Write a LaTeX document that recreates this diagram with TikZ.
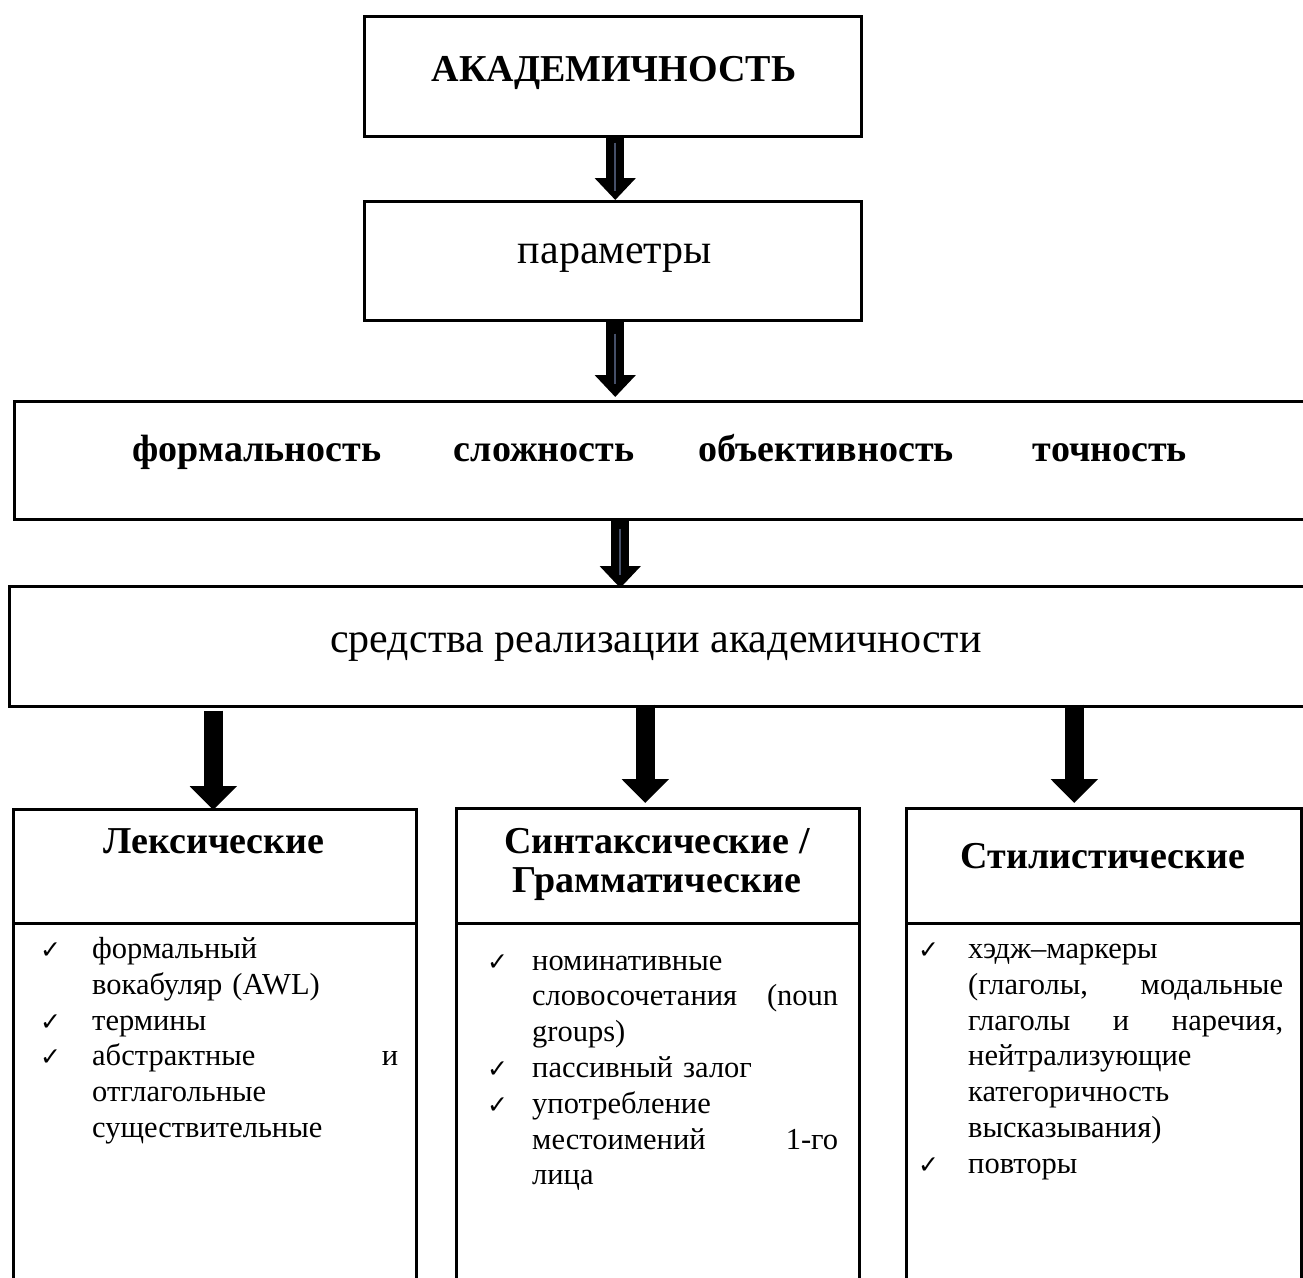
\documentclass[tikz,border=0pt]{standalone}
\usepackage{fontspec}
\setmainfont{Liberation Serif}
\newfontfamily\symfont{DejaVu Sans}
\usetikzlibrary{arrows.meta,calc}
\definecolor{slate}{RGB}{70,80,105}
\newcommand\chk{{\symfont\fontsize{25}{25}\selectfont ✓}}
\newcommand\itm[1]{\par\hangindent=#1\hangafter=1\noindent\makebox[#1][l]{\chk}\strut}
\begin{document}
\begin{tikzpicture}[x=1pt,y=-1pt,
  box/.style={draw,line width=2.5pt,inner sep=0pt,anchor=north west},
  body/.style={font=\fontsize{30.5}{35.8}\selectfont,inner sep=0pt,anchor=north west,align=left},
  hbold/.style={font=\fontsize{38}{40}\selectfont\bfseries,inner sep=0pt,anchor=base},
  big/.style={font=\fontsize{42}{46}\selectfont,inner sep=0pt,anchor=base},
  thickarrow/.style={line width=18pt,-{Triangle[width=40pt,length=22pt]}},
  fatarrow/.style={line width=19pt,-{Triangle[width=46pt,length=24pt]}},
  innerln/.style={line width=2pt,draw=slate}]
\useasboundingbox (0,0) rectangle (1303,1277);

% boxes
\node[box,minimum width=497pt,minimum height=120pt] (A) at (363,15) {};
\node[box,minimum width=497pt,minimum height=119pt] (B) at (363,200) {};
\node[box,minimum width=1320pt,minimum height=118pt] (C) at (13,400) {};
\node[box,minimum width=1320pt,minimum height=120pt] (D) at (8,585) {};
\node[box,minimum width=403pt,minimum height=114pt] (Lh) at (12,808) {};
\node[box,minimum width=403pt,minimum height=380pt] (Lb) at (12,922) {};
\node[box,minimum width=403pt,minimum height=115pt] (Mh) at (455,807) {};
\node[box,minimum width=403pt,minimum height=380pt] (Mb) at (455,922) {};
\node[box,minimum width=395pt,minimum height=115pt] (Rh) at (905,807) {};
\node[box,minimum width=395pt,minimum height=380pt] (Rb) at (905,922) {};

% texts
\node[hbold] (tA) at (614,81) {АКАДЕМИЧНОСТЬ};
\node[big] (tB) at (615,263) {параметры};
\node[hbold] (c1) at (257,461) {формальность};
\node[hbold] (c2) at (544,461) {сложность};
\node[hbold] (c3) at (826,461) {объективность};
\node[hbold] (c4) at (1110,461) {точность};
\node[big] (tD) at (656,652) {средства реализации академичности};
\node[hbold] (tL) at (214,853) {Лексические};
\node[hbold] (tM1) at (657,853) {Синтаксические /};
\node[hbold] (tM2) at (657,892) {Грамматические};
\node[hbold] (tR) at (1103,868) {Стилистические};

% lists
\node[body,text width=358pt] (lL) at (40,922.5) {%
\itm{52pt}формальный\newline вокабуляр (AWL)
\itm{52pt}термины
\itm{52pt}абстрактные\hfill и\newline отглагольные\newline существительные\par};
\node[body,text width=351pt] (lM) at (487,934) {%
\itm{45pt}номинативные\newline словосочетания\hfill (noun\newline groups)
\itm{45pt}пассивный залог
\itm{45pt}употребление\newline местоимений\hfill 1-го\newline лица\par};
\node[body,text width=365pt] (lR) at (918,922.5) {%
\itm{50pt}хэдж–маркеры\newline (глаголы,\hfill модальные\newline глаголы\hfill и\hfill наречия,\newline нейтрализующие\newline категоричность\newline высказывания)
\itm{50pt}повторы\par};

% arrows
\draw[thickarrow] ($(A.south)+(2.5,0)$) -- ($(A.south |- B.north)+(2.5,0)$);
\draw[innerln] ($(A.south)+(2.5,5)$) -- ($(A.south |- B.north)+(2.5,-9)$);
\draw[thickarrow] ($(B.south)+(2.5,0)$) -- ($(B.south |- C.north)+(2.5,-3)$);
\draw[innerln] ($(B.south)+(2.5,12)$) -- ($(B.south |- C.north)+(2.5,-16)$);
\draw[thickarrow] ($(B.south |- C.south)+(7.5,0)$) -- ($(B.south |- D.north)+(7.5,3)$);
\draw[innerln] ($(B.south |- C.south)+(7.5,8)$) -- ($(B.south |- D.north)+(7.5,-10)$);
\draw[fatarrow] ($(Lh.north |- D.south)+(-1.5,3)$) -- ($(Lh.north)+(-1.5,2)$);
\draw[fatarrow] ($(Mh.north |- D.south)+(-12.5,-3)$) -- ($(Mh.north)+(-12.5,-4)$);
\draw[fatarrow] ($(Rh.north |- D.south)+(-29.5,-3)$) -- ($(Rh.north)+(-29.5,-4)$);
\end{tikzpicture}
\end{document}
